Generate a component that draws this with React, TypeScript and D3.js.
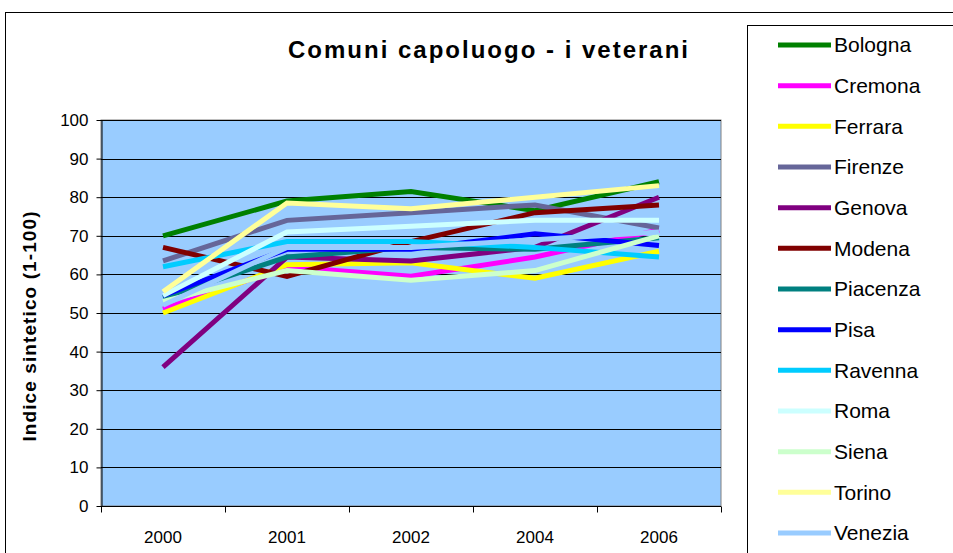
import React, { useEffect, useRef } from "react";
import * as d3 from "d3";

const years = ["2000", "2001", "2002", "2004", "2006"];
const seriesNames = ["Bologna", "Cremona", "Ferrara", "Firenze", "Genova", "Modena", "Piacenza", "Pisa", "Ravenna", "Roma", "Siena", "Torino", "Venezia"];
const seriesColors = ["#008000", "#FF00FF", "#FFFF00", "#666699", "#800080", "#800000", "#008080", "#0000FF", "#00CCFF", "#CCFFFF", "#CCFFCC", "#FFFF99", "#99CCFF"];
const bologna = [70, 79, 81.5, 76.5, 84];
const cremona = [51, 62, 59.5, 64.5, 71.5];
const ferrara = [50, 62.5, 63, 59, 66];
const firenze = [63.5, 74, 76, 78, 72];
const genova = [36, 64.5, 63.5, 67, 80];
const modena = [67, 59.5, 68.5, 76, 78];
const piacenza = [54, 64.5, 67, 66.5, 69.5];
const pisa = [54.5, 66.5, 66.5, 70.5, 67.5];
const ravenna = [62, 68.5, 68.5, 67, 64.5];
const roma = [54.5, 71, 72.5, 74, 74];
const siena = [53, 61, 58.5, 61, 70];
const torino = [55.5, 78.5, 77, 80, 83];
const venezia = [52, 67, 67, 69, 71];
const yTicks = [0, 10, 20, 30, 40, 50, 60, 70, 80, 90, 100];
const title = "Comuni capoluogo - i veterani";
const yLabel = "Indice sintetico (1-100)";

const seriesValues = [bologna, cremona, ferrara, firenze, genova, modena, piacenza, pisa, ravenna, roma, siena, torino, venezia];

export default function App() {
  const ref = useRef<SVGSVGElement>(null);
  useEffect(() => {
    const svg = d3.select(ref.current);
    svg.selectAll("*").remove();
    const W = 953, H = 553;
    const left = 101, right = 721, top = 120, bottom = 506;
    const font = "Liberation Sans, Arial, sans-serif";

    svg.append("rect").attr("x", 0).attr("y", 0).attr("width", W).attr("height", H).attr("fill", "#fff");
    // outer border
    svg.append("rect").attr("x", 5.5).attr("y", 12.5).attr("width", W + 20).attr("height", H + 20)
      .attr("fill", "none").attr("stroke", "#000").attr("stroke-width", 1);

    const x = d3.scaleBand().domain(years).range([left, right]);
    const y = d3.scaleLinear().domain([0, 100]).range([bottom, top]);

    // plot area
    svg.append("rect").attr("x", left).attr("y", top).attr("width", right - left).attr("height", bottom - top)
      .attr("fill", "#99CCFF").attr("stroke", "#808080").attr("stroke-width", 1);

    // gridlines
    svg.append("g").selectAll("line").data(yTicks.filter(t => t > 0)).join("line")
      .attr("x1", left).attr("x2", right)
      .attr("y1", d => Math.round(y(d)) + 0.5).attr("y2", d => Math.round(y(d)) + 0.5)
      .attr("stroke", "#000").attr("stroke-width", 1);

    // y axis
    const yAxis = svg.append("g").attr("transform", `translate(${left + 0.5},0)`)
      .call(d3.axisLeft(y).tickValues(yTicks).tickSize(5).tickPadding(8).tickSizeOuter(0));
    yAxis.select(".domain").attr("stroke", "#000");
    yAxis.selectAll("text").attr("font-family", font).attr("font-size", 17).attr("fill", "#000");

    // x axis
    const xAxis = svg.append("g").attr("transform", `translate(0,${bottom + 0.5})`);
    xAxis.append("line").attr("x1", left).attr("x2", right).attr("stroke", "#000");
    const bounds = years.map(d => x(d)!).concat([right]);
    xAxis.selectAll("line.tk").data(bounds).join("line").attr("class", "tk")
      .attr("x1", d => Math.round(d) + 0.5).attr("x2", d => Math.round(d) + 0.5)
      .attr("y1", 0).attr("y2", 6).attr("stroke", "#000");
    xAxis.selectAll("text").data(years).join("text")
      .attr("x", d => x(d)! + x.bandwidth() / 2).attr("y", 36)
      .attr("text-anchor", "middle").attr("font-family", font).attr("font-size", 17).text(d => d);

    // lines
    const line = d3.line<number>().x((_, i) => x(years[i])! + x.bandwidth() / 2).y(d => y(d));
    seriesValues.forEach((vals, i) => {
      svg.append("path").attr("d", line(vals)).attr("fill", "none")
        .attr("stroke", seriesColors[i]).attr("stroke-width", 5).attr("stroke-linejoin", "miter");
    });

    // title
    svg.append("text").attr("x", 489).attr("y", 58).attr("text-anchor", "middle")
      .attr("font-family", font).attr("font-weight", "bold").attr("font-size", 24)
      .attr("letter-spacing", 2).text(title);

    // y label
    svg.append("text").attr("transform", `translate(36,${326}) rotate(-90)`).attr("text-anchor", "middle")
      .attr("font-family", font).attr("font-weight", "bold").attr("font-size", 19)
      .attr("letter-spacing", 1.1).text(yLabel);

    // legend
    svg.append("rect").attr("x", 747.5).attr("y", 25.5).attr("width", 260).attr("height", 600)
      .attr("fill", "#fff").attr("stroke", "#000").attr("stroke-width", 1);
    const lg = svg.append("g");
    seriesNames.forEach((name, i) => {
      const cy = 45 + i * 40.67;
      lg.append("line").attr("x1", 778).attr("x2", 831).attr("y1", cy).attr("y2", cy)
        .attr("stroke", seriesColors[i]).attr("stroke-width", 5);
      lg.append("text").attr("x", 834).attr("y", cy).attr("dy", "0.35em")
        .attr("font-family", font).attr("font-size", 21).text(name);
    });
  }, []);
  return (
    <svg ref={ref} width={953} height={553} style={{ position: "absolute", left: 0, top: 0 }} />
  );
}
